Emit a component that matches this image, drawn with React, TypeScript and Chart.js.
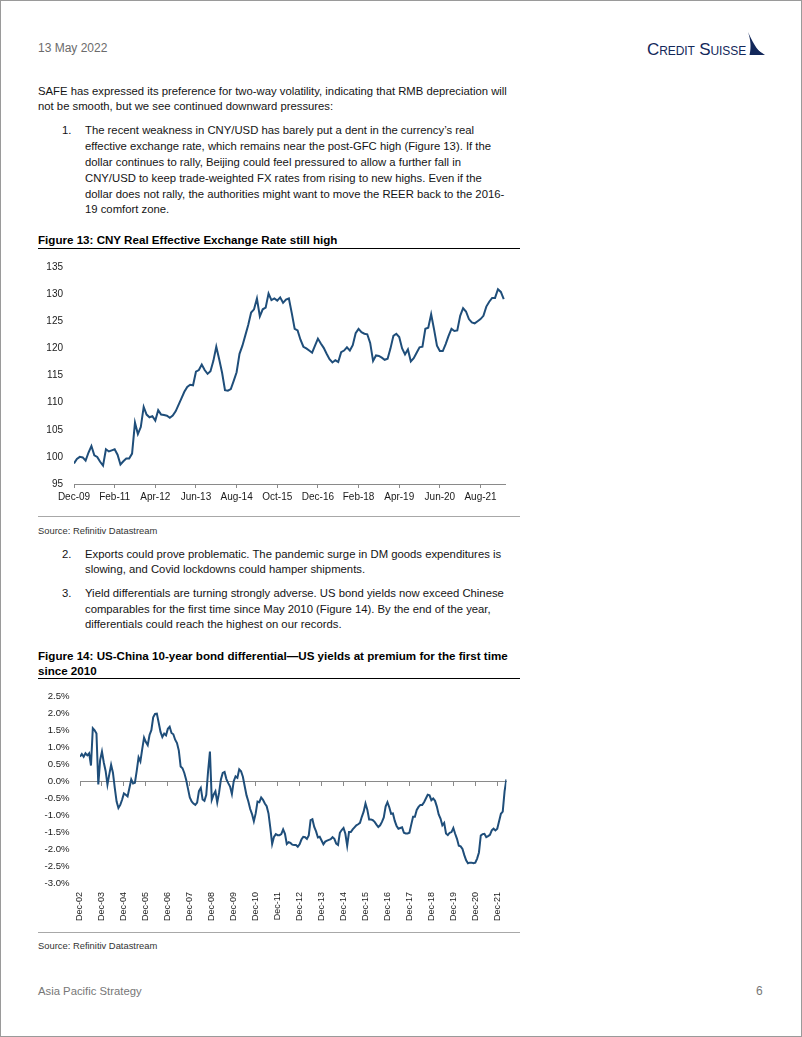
import React, { useEffect, useRef } from 'react';
import { Chart, registerables } from 'chart.js';

Chart.register(...registerables);

const FONT = '"Liberation Sans", Arial, Helvetica, sans-serif';
const LINE_COLOR = '#1f4e7a';
const AXIS_GRAY = '#8a8a8a';

// Figure 13: CNY REER, monthly Dec-09 .. Apr-22
const reerTickLabels = ['Dec-09', 'Feb-11', 'Apr-12', 'Jun-13', 'Aug-14', 'Oct-15', 'Dec-16', 'Feb-18', 'Apr-19', 'Jun-20', 'Aug-21'];
const reerValues = [
  98.8, 99.6, 100.0, 99.9, 99.3, 100.8, 102.0, 100.3, 100.0, 99.1,
  98.4, 101.4, 101.0, 101.2, 101.4, 100.4, 98.6, 99.2, 99.7, 99.7,
  100.6, 106.3, 104.2, 105.5, 109.2, 107.8, 107.3, 107.5, 106.7, 108.6,
  107.8, 107.7, 107.6, 107.2, 107.6, 108.4, 109.6, 110.8, 112.0, 112.9,
  113.3, 113.2, 115.7, 116.0, 117.0, 116.0, 115.3, 115.8, 117.7, 120.3,
  118.0, 115.5, 112.3, 112.2, 112.5, 114.0, 115.6, 119.0, 120.5, 122.4,
  124.3, 126.6, 127.2, 129.2, 125.9, 127.2, 127.5, 130.1, 128.9, 129.2,
  128.8, 129.4, 128.4, 129.0, 129.2, 126.5, 123.6, 123.3, 121.6, 120.3,
  120.0, 119.6, 119.2, 120.5, 121.8, 120.9, 120.1, 119.0, 118.0, 117.4,
  117.8, 117.5, 119.3, 119.6, 120.2, 119.6, 120.6, 122.8, 123.6, 123.0,
  122.7, 122.6, 121.0, 117.7, 118.7, 118.6, 118.3, 117.9, 118.1, 120.0,
  122.3, 122.7, 122.1, 120.0, 118.9, 119.8, 117.6, 118.2, 119.2, 120.2,
  120.3, 123.6, 123.8, 126.3, 123.5, 120.5, 119.5, 119.5, 120.8, 122.3,
  123.6, 123.2, 123.3, 126.0, 127.4, 126.8, 125.4, 124.8, 124.6, 125.0,
  125.4, 126.0, 127.7, 128.6, 129.3, 129.3, 130.9, 130.4, 129.1,
];
const reerYTicks = [95, 135, 5];

// Figure 14: US-China 10y bond differential (%), monthly Dec-02 .. May-22
const bondTickLabels = ['Dec-02', 'Dec-03', 'Dec-04', 'Dec-05', 'Dec-06', 'Dec-07', 'Dec-08', 'Dec-09', 'Dec-10', 'Dec-11', 'Dec-12', 'Dec-13', 'Dec-14', 'Dec-15', 'Dec-16', 'Dec-17', 'Dec-18', 'Dec-19', 'Dec-20', 'Dec-21'];
const bondValues = [
  0.72, 0.80, 0.72, 0.82, 0.76, 0.82, 0.46, 1.56, 1.50, 1.40,
  -0.10, 0.62, 0.87, 0.55, 0.30, -0.10, 0.20, 0.48, 0.25, -0.20,
  -0.60, -0.79, -0.70, -0.55, -0.36, -0.40, -0.45, -0.20, 0.05, -0.07,
  -0.05, 0.30, 0.70, 0.58, 0.94, 1.28, 1.15, 1.06, 1.36, 1.50,
  1.88, 1.98, 1.99, 1.72, 1.45, 1.30, 1.40, 1.35, 1.54, 1.60,
  1.42, 1.38, 1.22, 1.12, 0.90, 0.43, 0.38, 0.24, 0.04, -0.22,
  -0.48, -0.60, -0.66, -0.70, -0.63, -0.29, -0.20, -0.54, -0.58, -0.40,
  0.30, 0.87, -0.55, -0.40, -0.30, -0.63, -0.34, 0.05, 0.24, 0.27,
  0.06, -0.06, -0.16, -0.38, 0.00, 0.14, 0.10, 0.35, 0.29, 0.13,
  -0.15, -0.42, -0.60, -0.82, -0.97, -1.18, -0.95, -0.60, -0.62, -0.48,
  -0.55, -0.66, -0.74, -0.95, -1.38, -1.85, -1.64, -1.56, -1.59, -1.59,
  -1.56, -1.42, -1.55, -1.85, -1.80, -1.82, -1.87, -1.88, -1.88, -1.93,
  -1.86, -1.72, -1.64, -1.65, -1.70, -1.60, -1.15, -1.12, -1.35, -1.48,
  -1.66, -1.64, -1.75, -1.86, -1.78, -1.75, -1.73, -1.71, -1.65, -1.70,
  -1.84, -1.88, -1.52, -1.44, -1.38, -1.55, -1.90, -1.50, -1.50, -1.42,
  -1.36, -1.30, -1.27, -1.23, -1.05, -0.90, -0.66, -0.84, -1.13, -1.13,
  -1.15, -1.20, -1.28, -1.35, -1.30, -1.20, -1.07, -0.75, -0.62, -0.77,
  -0.96, -0.95, -1.17, -1.32, -1.40, -1.38, -1.36, -1.52, -1.54, -1.54,
  -1.52, -1.28, -1.05, -1.05, -0.85, -0.76, -0.70, -0.70, -0.62, -0.51,
  -0.40, -0.42, -0.56, -0.51, -0.58, -0.75, -0.98, -1.10, -1.30, -1.23,
  -1.54, -1.59, -1.52, -1.50, -1.38, -1.55, -1.70, -1.90, -1.92, -2.00,
  -2.18, -2.33, -2.42, -2.40, -2.40, -2.42, -2.40, -2.28, -2.10, -1.60,
  -1.56, -1.55, -1.65, -1.62, -1.58, -1.45, -1.40, -1.45, -1.40, -1.18,
  -0.96, -0.90, -0.30, 0.05,
];
const bondYTicks = [-3, 2.5, 0.5];

function ReerChart() {
  const ref = useRef<HTMLCanvasElement>(null);
  useEffect(() => {
    const chart = new Chart(ref.current!, {
      type: 'line',
      data: {
        datasets: [{
          data: reerValues.map((v, i) => ({ x: i, y: v })),
          borderColor: LINE_COLOR,
          borderWidth: 2,
          pointRadius: 0,
          tension: 0,
          fill: false,
        }],
      },
      options: {
        animation: false,
        responsive: false,
        events: [],
        layout: { padding: { top: 12, right: 14.8, left: 0, bottom: 0 } },
        plugins: { legend: { display: false }, tooltip: { enabled: false } },
        scales: {
          x: {
            type: 'linear',
            min: 0,
            max: reerValues.length - 0.5,
            grid: { display: true, drawOnChartArea: false, drawTicks: true, tickLength: 4, color: AXIS_GRAY },
            border: { display: true, color: AXIS_GRAY, width: 1 },
            ticks: {
              stepSize: 14,
              includeBounds: false,
              autoSkip: false,
              maxRotation: 0,
              minRotation: 0,
              padding: 3,
              color: '#1a1a1a',
              font: { family: FONT, size: 10 },
              callback: (v: any) => reerTickLabels[Math.round(Number(v) / 14)] ?? '',
            },
            afterFit: (s: any) => { s.height = 24; },
          },
          y: {
            min: reerYTicks[0],
            max: reerYTicks[1],
            grid: { display: false, drawTicks: false },
            border: { display: false },
            ticks: {
              stepSize: reerYTicks[2],
              padding: 11,
              color: '#1a1a1a',
              font: { family: FONT, size: 10 },
            },
            afterFit: (s: any) => { s.width = 36; },
          },
        },
      },
    });
    return () => chart.destroy();
  }, []);
  return <canvas ref={ref} width={482} height={258} style={{ position: 'absolute', left: 38, top: 250, width: 482, height: 258 }} />;
}

function BondChart() {
  const ref = useRef<HTMLCanvasElement>(null);
  useEffect(() => {
    const maxX = bondValues.length - 1;
    const labelCb = (v: any) => bondTickLabels[Math.round(Number(v) / 12)] ?? '';
    const chart = new Chart(ref.current!, {
      type: 'line',
      data: {
        datasets: [{
          data: bondValues.map((v, i) => ({ x: i, y: v })),
          xAxisID: 'x',
          yAxisID: 'y',
          borderColor: LINE_COLOR,
          borderWidth: 2,
          pointRadius: 0,
          tension: 0,
          fill: false,
        }],
      },
      options: {
        animation: false,
        responsive: false,
        events: [],
        layout: { padding: { top: 13, right: 13.6, left: 0, bottom: 0 } },
        plugins: { legend: { display: false }, tooltip: { enabled: false } },
        scales: {
          x: {
            type: 'linear',
            position: { y: 0 } as any,
            min: 0,
            max: maxX,
            grid: { display: true, drawOnChartArea: false, drawTicks: true, tickLength: 4, color: AXIS_GRAY },
            border: { display: true, color: AXIS_GRAY, width: 1 },
            ticks: { display: false, stepSize: 12, includeBounds: false, autoSkip: false },
          },
          x2: {
            type: 'linear',
            axis: 'x',
            position: 'bottom',
            min: 0,
            max: maxX,
            grid: { display: false, drawTicks: false },
            border: { display: false },
            ticks: {
              stepSize: 12,
              includeBounds: false,
              autoSkip: false,
              minRotation: 90,
              maxRotation: 90,
              padding: 9,
              color: '#1a1a1a',
              font: { family: FONT, size: 9 },
              callback: labelCb,
            },
            afterFit: (s: any) => { s.height = 45; },
          },
          y: {
            min: bondYTicks[0],
            max: bondYTicks[1],
            grid: { display: false, drawTicks: false },
            border: { display: false },
            ticks: {
              stepSize: bondYTicks[2],
              padding: 10.5,
              color: '#1a1a1a',
              font: { family: FONT, size: 9.6 },
              callback: (v: any) => Number(v).toFixed(1) + '%',
            },
            afterFit: (s: any) => { s.width = 42; },
          },
        },
      } as any,
    });
    return () => chart.destroy();
  }, []);
  return <canvas ref={ref} width={482} height={248} style={{ position: 'absolute', left: 38, top: 680, width: 482, height: 248 }} />;
}

function T({ y, x = 38, size = 11.3, bold = false, color = '#141414', children }: any) {
  return (
    <div style={{ position: 'absolute', left: x, top: y - 8, height: 16, lineHeight: '16px', fontSize: size, fontWeight: bold ? 700 : 400, color, whiteSpace: 'nowrap', fontFamily: FONT }}>
      {children}
    </div>
  );
}

function Rule({ y, color, h = 1 }: any) {
  return <div style={{ position: 'absolute', left: 38, top: y - h / 2, width: 482, height: h, background: color }} />;
}

export default function App() {
  return (
    <div style={{ position: 'absolute', left: 0, top: 0, width: 802, height: 1037, background: '#fff', overflow: 'hidden', fontFamily: FONT }}>
      <div style={{ position: 'absolute', left: 0, top: 0, width: 800, height: 1035, border: '1px solid #9a9a9a' }} />

      <T y={48} size={12} color="#6b6b6b">13 May 2022</T>
      <div style={{ position: 'absolute', left: 647, top: 41, fontFamily: FONT, fontSize: 17, fontVariant: 'small-caps', color: '#13285a', letterSpacing: '-0.1px', lineHeight: '18px', whiteSpace: 'nowrap' }}>Credit Suisse</div>
      <svg style={{ position: 'absolute', left: 740, top: 31 }} width={26} height={28} viewBox="0 0 26 28">
        <path d="M8 1 C 10.5 8, 11.5 16, 9.5 24 L 23 24 C 16.5 18.5, 12 10, 8 1 Z" fill="#13285a" />
        <path d="M11.5 15 L 25 24 L 13.5 24 Z" fill="#13285a" />
      </svg>

      <T y={91}>SAFE has expressed its preference for two-way volatility, indicating that RMB depreciation will</T>
      <T y={106}>not be smooth, but we see continued downward pressures:</T>

      <T y={130} x={62}>1.</T>
      <T y={130} x={85}>The recent weakness in CNY/USD has barely put a dent in the currency’s real</T>
      <T y={146} x={85}>effective exchange rate, which remains near the post-GFC high (Figure 13). If the</T>
      <T y={162} x={85}>dollar continues to rally, Beijing could feel pressured to allow a further fall in</T>
      <T y={178} x={85}>CNY/USD to keep trade-weighted FX rates from rising to new highs. Even if the</T>
      <T y={193.5} x={85}>dollar does not rally, the authorities might want to move the REER back to the 2016-</T>
      <T y={209} x={85}>19 comfort zone.</T>

      <T y={240} size={11.6} bold color="#000">Figure 13: CNY Real Effective Exchange Rate still high</T>
      <Rule y={248} color="#000" h={1} />

      <ReerChart />

      <Rule y={516.5} color="#a8a8a8" h={1.5} />
      <T y={530.5} size={9.4} color="#333">Source: Refinitiv Datastream</T>

      <T y={553.5} x={62}>2.</T>
      <T y={553.5} x={85}>Exports could prove problematic. The pandemic surge in DM goods expenditures is</T>
      <T y={568.5} x={85}>slowing, and Covid lockdowns could hamper shipments.</T>

      <T y={593} x={62}>3.</T>
      <T y={593} x={85}>Yield differentials are turning strongly adverse. US bond yields now exceed Chinese</T>
      <T y={608.5} x={85}>comparables for the first time since May 2010 (Figure 14). By the end of the year,</T>
      <T y={623.5} x={85}>differentials could reach the highest on our records.</T>

      <T y={656} size={11.6} bold color="#000">Figure 14: US-China 10-year bond differential—US yields at premium for the first time</T>
      <T y={671} size={11.6} bold color="#000">since 2010</T>
      <Rule y={678} color="#000" h={1} />

      <BondChart />

      <Rule y={932.5} color="#a8a8a8" h={1.5} />
      <T y={945.5} size={9.4} color="#333">Source: Refinitiv Datastream</T>

      <T y={991} size={11.3} color="#777">Asia Pacific Strategy</T>
      <T y={991} x={756} size={12} color="#777">6</T>
    </div>
  );
}
